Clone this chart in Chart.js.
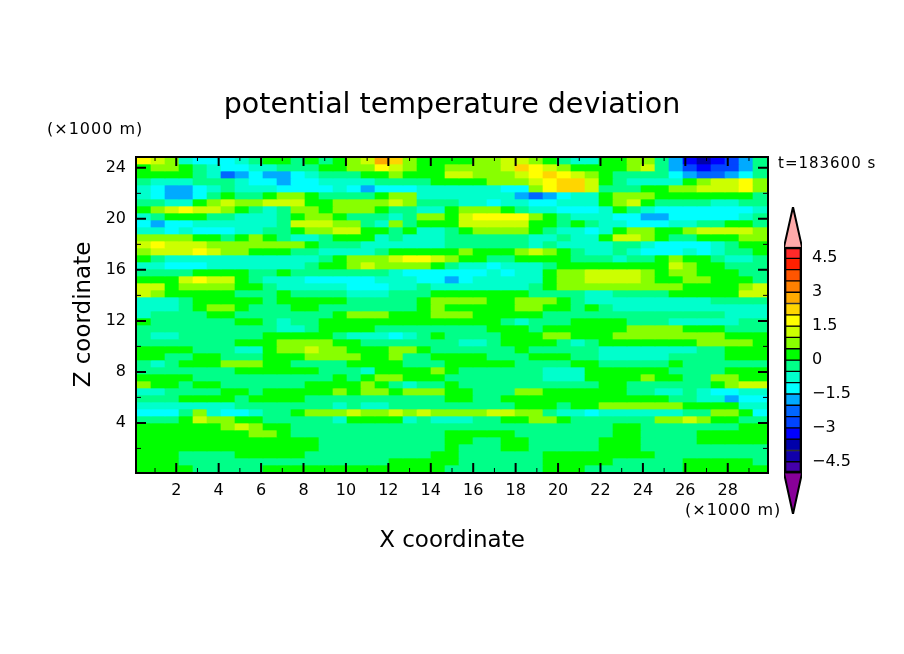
<!DOCTYPE html>
<html>
  <head>
    <meta charset="utf-8">
    <script src="https://cdnjs.cloudflare.com/ajax/libs/Chart.js/4.4.1/chart.umd.js" type="text/javascript"></script>
    <style>
      body { margin: 0; background: #fff; }
      #field { position: absolute; left: 0; top: 0; }
      #bar { position: absolute; left: 780px; top: 187px; }
    </style>
  </head>
  <body>
    <canvas id="field" width="904" height="654"></canvas>
    <canvas id="bar" width="124" height="340"></canvas>

    <script>
      // potential temperature deviation, top row first
      const z00 = [1.8,1.3,.8,-.8,-1.3,-1.3,-1.3,-.8,-.3,.3,.3,-.3,.3,-.3,.3,.8,1.3,2.8,2.3,.8,.3,.3,.3,.3,.8,.8,1.3,1.3,.8,.3,-.3,-.8,-.8,.3,.3,.8,.8,-.3,-1.8,-3.3,-3.8,-3.3,-2.8,-1.8,-.3];
      const z01 = [.3,.8,.8,.3,-.3,-.8,-1.3,-1.3,-.8,-.8,-.3,-.3,-.3,.3,.3,.8,.8,1.8,1.3,.8,.3,.3,.8,.8,.8,.8,1.3,2.3,1.8,1.3,.8,.3,.3,.3,.3,.8,1.3,-.3,-1.8,-2.8,-3.3,-2.8,-2.8,-1.8,-.3];
      const z02 = [.3,.3,.3,.3,-.3,-.8,-2.3,-1.8,-1.3,-1.8,-1.8,-1.3,-.8,-.3,-.3,-.3,.3,.3,.8,.3,.3,.3,1.3,1.3,.8,.8,.8,1.3,1.8,2.3,1.8,1.3,.8,.3,-.3,-.3,-.3,-.3,-1.3,-1.8,-2.3,-2.3,-1.8,-1.3,-.3];
      const z03 = [-.3,-.8,-.8,-.8,-.3,-.3,-.3,-.8,-1.3,-1.3,-1.8,-1.3,-1.3,-.8,-.8,-.8,-.8,-.3,-.3,-.3,-.3,.3,.3,.3,.3,.8,.8,.8,1.3,1.8,2.3,2.3,1.3,.3,-.3,-.8,-.8,-.8,-.8,.3,.8,1.3,1.3,1.8,.8];
      const z04 = [-.8,-1.3,-1.8,-1.8,-1.3,-.8,-.3,-.8,-.8,-.8,-1.3,-1.3,-1.3,-1.3,-.8,-1.3,-1.8,-1.3,-1.3,-1.3,-.8,-.8,-.8,-.8,-.8,-.8,-1.3,-1.3,.8,1.8,2.3,2.3,1.3,-.3,-.3,-.3,.3,.3,.8,.8,1.3,1.3,1.3,1.8,.8];
      const z05 = [-.8,-1.3,-1.8,-1.8,-1.3,-.3,.3,-.3,-.3,.3,.8,.8,.3,-.3,-.3,-.3,-.3,.3,.8,.8,-.8,-.8,-.8,-.8,-.8,-.8,-.8,-1.8,-2.3,-1.8,-1.3,-.8,-.8,.3,.8,.8,.8,.3,.3,.3,.3,.3,.3,.3,-.3];
      const z06 = [-.3,-.3,-.8,-.8,.3,.8,1.3,.8,.8,1.3,1.3,1.3,.3,.3,.8,.8,.8,.8,1.3,.8,-.3,-.3,-.3,-.8,-.8,-1.3,-.8,-.8,-1.3,-1.3,-.8,-.8,-.8,.3,.8,1.3,.3,-.3,-.3,-.3,-.3,-.8,-.8,-.3,-.3];
      const z07 = [.3,.8,1.3,1.8,1.3,1.3,.8,.3,-.3,-.8,-.3,.8,.8,.3,.8,.8,.8,.3,-.3,-.3,-.8,-.8,.3,.8,.8,.8,.3,-.3,-.8,-.8,-1.3,-1.3,-1.3,-.8,.3,-.3,-.8,-1.3,-1.3,-1.3,-1.3,-1.3,-1.3,-1.3,-.8];
      const z08 = [-.8,-.3,.3,.3,.3,-.3,-.3,-.8,-.8,-.8,-.3,.3,.8,.8,.3,-.3,-.3,-.3,-.8,-.3,.8,.8,.3,1.3,1.8,1.8,1.8,1.8,.8,.3,-.3,-.8,-.8,-.8,-1.3,-1.3,-1.8,-1.8,-1.3,-1.3,-1.3,-1.3,-1.3,-.8,-.3];
      const z09 = [-1.3,-1.8,-1.3,-1.3,-.8,-.8,-.8,-.8,-.8,-.8,-.3,1.3,1.3,1.3,.8,.8,-.3,-.8,.8,-.3,.3,.3,.3,1.3,1.3,1.3,1.3,1.3,.3,.3,-.3,.3,-.3,-.8,-.8,-1.3,-1.3,-1.3,-.8,-.8,-.3,-.3,.3,.3,-.3];
      const z10 = [-.8,-.8,-1.3,-.8,-1.3,-1.3,-1.3,-.8,-.8,-.3,-.3,.3,.8,.8,1.3,1.3,.3,.3,-.3,.3,-.8,-.8,-.3,.3,.8,.8,.8,.8,.3,-.3,-.8,-.8,-1.3,-.8,.3,.8,.8,.3,.3,.8,1.3,1.3,1.3,1.3,.8];
      const z11 = [.8,.8,.8,.8,.3,.3,-.3,.3,.8,.3,-.3,-.8,-.8,-.3,.3,.3,.3,-.8,-.3,-.8,-.8,-.8,-.3,-.3,-.3,-.3,-.3,-.3,-.8,-.8,-.3,-.8,-.8,.3,1.3,1.3,.8,.3,-.3,-.3,.3,.3,.3,.8,.8];
      const z12 = [1.3,1.8,1.3,1.3,1.3,.8,.8,.8,.8,.8,.8,.8,.3,-.3,-.3,-.3,-.8,-.8,-.8,-.8,-.8,-.8,-.3,-.3,-.3,-.3,-.3,-.3,-.8,-.3,-.8,-.8,-.8,-.8,-.3,-.3,-.8,-1.3,-1.3,-1.3,-1.3,-.8,-.3,.3,.3];
      const z13 = [.8,1.3,1.3,1.3,1.8,1.3,.8,.8,.3,.3,.3,-.3,-.3,-.8,-.8,-.8,-.8,-.3,.3,.3,.3,.3,.3,.8,.3,.3,.3,.8,1.3,.8,.3,-.3,-.8,-.8,-.3,-.8,-1.3,-1.3,-1.3,-.8,-1.3,-.8,-.3,-.3,.3];
      const z14 = [.3,-.3,-.8,-.8,-.8,-.8,-.8,-.8,-.8,-.8,-.8,-.8,-.8,-.3,.3,.8,.8,.8,1.3,1.8,1.8,1.3,.8,.3,.3,-.3,-.3,.3,.3,.3,.3,-.3,-.3,-.3,-.8,-.3,-.3,.3,.8,.3,.3,-.3,-.8,-.8,-.3];
      const z15 = [-.8,-.8,-1.3,-1.3,-1.3,-.8,-.8,-.8,-.8,-.8,-.8,-.8,-.3,.3,.3,.8,1.3,.8,.8,.8,.8,.3,-.3,-.8,-.8,-1.3,-.8,-.8,-.8,-.3,.3,.3,.3,.3,.3,.3,.3,.3,1.3,.8,.3,.3,-.3,-.3,-.3];
      const z16 = [-.3,-.3,-.3,-.3,.3,.3,.3,.3,-.3,-.3,.3,-.3,-.3,-.3,-.3,-.3,-.3,-.3,-.8,-1.3,-1.3,-1.3,-1.3,-1.3,-1.3,-.8,-1.3,-.8,-.8,.3,.8,.8,1.3,1.3,1.3,1.3,.8,.3,.8,.8,.3,.3,.3,-.3,-.3];
      const z17 = [.3,.3,.3,1.3,1.8,1.3,1.3,.3,-.3,-.8,-.8,-.8,-1.3,-1.3,-1.3,-1.3,-1.3,-.8,-.8,-.8,-1.3,-1.3,-1.8,-1.3,-.8,-.8,-.8,-.8,-.8,.3,.8,.8,1.3,1.3,1.3,1.3,.8,.3,.3,.8,.8,.3,.3,.3,-.3];
      const z18 = [1.3,1.3,.3,.8,.8,.8,.8,.3,.3,-.3,-.8,-.8,-.8,-.8,-.8,-1.3,-1.3,-1.3,-.8,-.8,-.3,-.8,-.8,-.8,-.8,-.8,-.8,-.8,-.3,.3,.8,.8,.8,.8,.8,.8,.8,.8,.8,.3,.3,.3,.3,.8,1.3];
      const z19 = [1.3,.8,.3,.3,.3,.3,.3,-.3,-.3,-.3,.3,-.3,-.3,-.3,-.3,-.8,-.8,-.8,-.3,-.3,-.3,.3,.3,.3,.3,.3,.3,.3,-.3,-.3,-.3,-.3,-.8,-.8,-.3,-.3,-.3,-.3,.3,.3,.3,.3,.3,1.3,1.3];
      const z20 = [-.8,-.8,-.8,-.3,.3,.3,.3,.3,.3,-.3,.3,.3,.3,.3,.3,-.3,-.3,-.3,-.3,-.3,.3,.8,.8,.8,.8,.3,.3,.8,.8,.8,.3,-.3,-.8,-.8,-.8,-.8,-.8,-.8,-.8,-.8,-.8,-.3,-.3,-.3,-.3];
      const z21 = [-.8,-.8,-.8,-.3,.3,.8,.8,.3,-.3,-.3,-.3,.3,.3,-.3,-.3,-.3,-.3,-.3,-.3,-.3,.3,.8,.3,.3,.3,.3,.3,.8,.8,.3,.3,-.3,.3,-.3,-.8,-.8,-.8,-.8,-.8,-.8,-.8,-.8,-.8,-.8,-.8];
      const z22 = [-.8,-.3,-.3,-.3,-.3,.3,.3,-.3,-.3,-.3,-.3,-.3,-.3,-.3,.3,.8,.8,.8,.3,.3,.3,.8,.8,.8,.3,.3,.3,.3,.3,-.3,-.3,-.3,-.3,-.3,-.3,-.3,-.3,-.3,-.3,-.3,-.3,-.3,-.8,-.8,-.8];
      const z23 = [.3,-.3,-.3,-.3,-.3,-.3,-.3,.3,.3,-.3,-.8,-.3,-.3,.3,.3,.3,.3,.3,.3,.3,.3,.3,.3,.3,.3,.3,-.3,-.8,-.3,-.3,-.3,.3,.3,.3,.3,-.3,-.3,-.3,-.8,-.8,-.8,-.8,-.8,-.3,-.3];
      const z24 = [-.3,-.3,-.3,-.3,-.3,-.3,-.3,-.3,-.3,-.3,-.8,-.8,-.3,.3,.3,.3,.3,-.3,-.3,-.3,-.3,-.3,-.3,-.3,-.3,.3,.3,.3,-.3,.3,.3,.3,.3,.3,.3,.8,.8,.8,.8,.3,.3,.3,-.3,-.3,-.3];
      const z25 = [-.3,-.8,-.8,-.3,-.3,-.3,-.3,-.3,-.3,.3,.3,.3,.3,.3,-.3,-.8,-.8,-.8,-1.3,-.8,-.3,.3,-.3,-.3,-.3,-.3,.3,.3,.3,.8,.8,.3,.3,.3,.8,.8,.8,.8,.8,.8,.8,.8,.3,.3,.3];
      const z26 = [-.3,-.3,-.3,-.3,-.3,-.3,-.3,.3,.3,.3,.8,.8,.8,.8,.3,.3,-.3,-.3,-.3,-.3,-.3,-.3,-.3,-.8,-.8,-.3,.3,.3,.3,.3,-.3,-.8,-.3,.3,.3,.3,.3,.3,.3,.3,.8,.8,.8,.8,.3];
      const z27 = [.3,.3,.3,.3,-.3,-.3,-.3,-.8,-.8,.3,.8,.8,1.3,.8,.8,.3,.3,.3,.8,.8,.3,-.3,-.3,-.3,-.3,-.3,-.3,.3,-.3,-.3,-.3,-.3,-.3,-.8,-.8,-.8,-.8,-.8,-.8,-.8,-.3,-.3,.3,.3,.3];
      const z28 = [.3,.3,-.3,-.3,.3,.3,-.3,-.3,-.3,.3,.3,.3,.8,.8,.8,.8,.3,.3,.8,-.3,-.3,.3,.3,.3,.3,-.3,-.3,-.3,.3,.3,.3,-.3,-.3,-.8,-.8,-.8,-.8,-.8,-.3,-.3,-.3,-.3,.3,.3,.3];
      const z29 = [-.3,-.8,-.3,.3,.3,.3,.8,.8,.8,.3,.3,-.3,-.3,-.3,-.3,.3,.3,.3,.3,-.3,-.3,-.3,.3,.3,.3,.3,.3,-.3,-.3,-.3,-.3,.3,.3,-.3,-.3,-.3,-.3,-.3,.3,-.3,-.3,-.3,-.3,-.3,-.3];
      const z30 = [-.3,-.3,-.3,-.3,-.3,-.3,-.3,.3,.3,.3,.3,.3,.3,-.3,-.3,-.3,-.8,.3,.3,.3,.3,.8,.3,-.3,-.3,-.3,-.3,-.3,-.3,-.8,-.8,-.8,.3,.3,.3,.3,.3,.3,-.3,-.3,-.3,-.3,.3,.3,.3];
      const z31 = [.3,.3,.3,.3,-.3,-.3,-.3,-.3,-.3,-.3,-.3,-.3,-.3,-.3,.3,-.3,.3,.8,.8,.3,.3,.3,-.3,-.3,-.3,-.3,-.3,-.3,-.3,-.8,-.8,-.8,.3,.3,.3,.3,.8,.3,.3,-.3,-.3,.8,.8,.3,.3];
      const z32 = [.8,.3,.3,-.3,.3,.3,-.3,-.3,-.3,-.3,-.3,-.3,.3,.3,.3,.3,.8,.3,-.3,-.8,-.3,-.3,.3,-.3,-.3,-.3,-.3,-.3,-.3,-.3,-.3,-.3,-.3,.3,.3,-.3,-.3,-.3,-.3,-.3,-.3,.3,.8,1.3,1.3];
      const z33 = [-.8,-.8,-.3,-.3,-.3,-.3,.3,.3,-.3,.3,.3,.3,.3,.3,.8,.3,.8,.8,.3,.8,.8,.8,.3,.3,-.3,-.3,-.3,.8,.8,.3,.3,.3,.3,.3,.3,-.3,-.3,-.8,-.8,-.3,-.8,-1.3,-1.3,-.8,-.8];
      const z34 = [-.3,-.3,-.3,.3,.3,.3,.3,-.3,.3,.3,.3,.3,-.3,-.3,-.3,-.3,-.3,-.3,-.3,-.3,-.3,-.3,.3,.3,-.3,-.3,.3,.3,.3,.3,.3,.3,.3,.3,.3,.3,.3,.3,-.3,-.3,-.8,-.8,-1.8,-1.3,-1.3];
      const z35 = [-.8,-.8,-.8,-.8,-.8,-.8,-.8,-.3,-.3,-.3,-.3,-.3,-.3,-.3,-.8,-.3,-.8,-.8,-.3,-.3,-.3,-.3,-.3,-.3,-.3,-.3,-.3,.3,.3,.3,-.3,.3,.3,.8,.8,.8,.8,.8,.8,.3,.3,.3,.3,-.8,-.8];
      const z36 = [-1.3,-1.3,-1.3,-.3,.8,-.8,-1.3,-1.3,-.8,-.3,-.3,.3,.8,.8,.8,1.3,.8,.8,1.3,.8,1.3,.8,.8,.8,.8,1.3,1.3,.8,.8,-.3,-.8,-.8,-1.3,-.8,-.8,-.8,-.8,-.8,-.8,-.3,-.3,.8,.8,.3,-1.3];
      const z37 = [-.3,-.3,-.3,.3,1.3,.8,.8,.3,.3,-.3,-.3,-.3,-.3,-.3,-.8,.3,.3,.3,.3,-.8,-.3,-.8,-.8,-.8,-.3,-.3,.3,.3,.8,.8,.3,-.3,-.3,-.3,-.3,-.3,-.3,.8,.8,1.3,.8,.3,.3,-.3,-.3];
      const z38 = [.3,.3,.3,.3,.3,.3,.8,1.3,.8,.3,.3,-.3,-.3,-.3,-.3,-.3,-.3,-.3,-.3,-.3,-.3,-.3,-.3,-.3,-.3,-.3,-.3,-.3,-.3,-.3,-.3,-.3,-.3,-.3,.3,.3,-.3,-.3,-.3,-.3,-.3,-.3,-.3,.3,.3];
      const z39 = [.3,.3,.3,.3,.3,.3,.3,.3,.8,.8,.3,-.3,-.3,-.3,-.3,-.3,-.3,-.3,-.3,-.3,-.3,-.3,.3,.3,.3,.3,.3,-.3,-.3,-.3,-.3,-.3,-.3,-.3,.3,.3,-.3,-.3,-.3,-.3,.3,.3,.3,.3,.3];
      const z40 = [.3,.3,.3,.3,.3,.3,.3,.3,.3,.3,.3,.3,.3,-.3,-.3,-.3,-.3,-.3,-.3,-.3,-.3,-.3,.3,.3,-.3,-.3,.3,.3,-.3,-.3,-.3,-.3,-.3,.3,.3,.3,-.3,-.3,-.3,-.3,.3,.3,.3,.3,.3];
      const z41 = [.3,.3,.3,.3,.3,.3,.3,.3,.3,.3,.3,.3,.3,-.3,-.3,-.3,-.3,-.3,-.3,-.3,-.3,-.3,.3,-.3,-.3,-.3,.3,.3,-.3,-.3,-.3,-.3,-.3,.3,.3,.3,-.3,-.3,-.3,-.3,-.3,-.3,-.3,-.3,-.3];
      const z42 = [.3,.3,.3,-.3,-.3,-.3,-.3,.3,.3,.3,.3,.3,-.3,-.3,-.3,-.3,-.3,-.3,-.3,-.3,-.3,.3,.3,-.3,-.3,-.3,-.3,-.3,-.3,.3,.3,.3,.3,.3,.3,.3,.3,-.3,-.3,-.3,-.3,-.3,-.3,-.3,-.3];
      const z43 = [.3,.3,.3,-.3,-.3,-.3,-.3,-.3,-.3,-.3,-.3,-.3,-.3,-.3,-.3,-.3,-.3,-.3,.3,.3,.3,.3,.3,-.3,-.3,-.3,-.3,-.3,-.3,.3,.3,.3,.3,.3,-.3,-.3,-.3,-.3,-.3,.3,.3,.3,.3,.3,-.3];
      const z44 = [.3,.3,.3,.3,-.3,-.3,-.3,-.3,-.3,.3,.3,.3,.3,.3,.3,.3,.3,.3,.3,.3,.3,.3,-.3,-.3,-.3,-.3,-.3,-.3,-.3,.3,.3,.3,-.3,-.3,-.3,-.3,-.3,-.3,-.3,.3,.3,.3,.3,.3,.3];
      const zRows = [z00,z01,z02,z03,z04,z05,z06,z07,z08,z09,z10,z11,z12,z13,z14,z15,z16,z17,z18,z19,z20,z21,z22,z23,z24,z25,z26,z27,z28,z29,z30,z31,z32,z33,z34,z35,z36,z37,z38,z39,z40,z41,z42,z43,z44];

      const xTicks = [1,2,3,4,5,6,7,8,9,10,11,12,13,14,15,16,17,18,19,20,21,22,23,24,25,26,27,28,29];
      const zTicks = [2,4,6,8,10,12,14,16,18,20,22,24];
      const barTicks = [-4.5,-3,-1.5,0,1.5,3,4.5];

      // one colour for each 0.5 wide level from -5 up to 5
      const levelColors = ['#4400aa','#1100aa','#0000aa','#0000ff','#0044ff','#0066ff','#00aaff','#00ffff','#00ffcc','#00ff88',
                           '#00ff00','#88ff00','#ccff00','#ffff00','#ffd500','#ffaa00','#ff8000','#ff5500','#ff2000','#ff2a2a'];

      const FONT = 'DejaVu Sans';
      const xMin = 0.15, xMax = 29.85, zMin = 0.15, zMax = 24.85;
      const dx = (xMax - xMin) / z00.length;
      const dz = (zMax - zMin) / zRows.length;
      const colorOf = v => levelColors[Math.floor(v / 0.5) + 10];

      const rowSets = zRows.map((row, j) => ({
        backgroundColor: row.map(colorOf),
        borderWidth: 0,
        grouped: false,
        barPercentage: 1,
        categoryPercentage: 1,
        data: row.map((v, i) => ({ x: xMin + (i + 0.5) * dx, y: [zMax - (j + 1) * dz, zMax - j * dz] }))
      }));

      // frame and inward ticks on all four sides
      const frame = {
        id: 'frame',
        afterDatasetsDraw(chart) {
          const { ctx, chartArea: a, scales } = chart;
          ctx.save();
          ctx.strokeStyle = '#000';
          ctx.lineWidth = 2;
          ctx.strokeRect(a.left - 1, a.top, a.width + 2, a.height + 1);
          xTicks.forEach(v => {
            const x = scales.x.getPixelForValue(v), major = v % 2 === 0, len = major ? 9 : 4;
            ctx.lineWidth = major ? 2 : 1;
            ctx.beginPath();
            ctx.moveTo(x, a.bottom); ctx.lineTo(x, a.bottom - len);
            ctx.moveTo(x, a.top); ctx.lineTo(x, a.top + len);
            ctx.stroke();
          });
          zTicks.forEach(v => {
            const y = scales.y.getPixelForValue(v), major = v % 4 === 0, len = major ? 9 : 4;
            ctx.lineWidth = major ? 2 : 1;
            ctx.beginPath();
            ctx.moveTo(a.left, y); ctx.lineTo(a.left + len, y);
            ctx.moveTo(a.right, y); ctx.lineTo(a.right - len, y);
            ctx.stroke();
          });
          ctx.fillStyle = '#000';
          ctx.textBaseline = 'middle';
          ctx.letterSpacing = '1px';
          ctx.font = '16px "' + FONT + '"';
          ctx.fillText('(×1000 m)', 47, 130);
          ctx.fillText('(×1000 m)', 685, 511);
          ctx.font = '15px "' + FONT + '"';
          ctx.fillText('t=183600 s', 778, 164);
          ctx.restore();
        }
      };

      new Chart(document.getElementById('field'), {
        type: 'bar',
        data: { datasets: rowSets },
        plugins: [frame],
        options: {
          responsive: false,
          animation: false,
          plugins: {
            legend: { display: false },
            tooltip: { enabled: false },
            title: {
              display: true,
              text: 'potential temperature deviation',
              color: '#000',
              font: { family: FONT, size: 28.5, weight: 'normal', lineHeight: '30px' },
              padding: { top: 91, bottom: 36 }
            }
          },
          scales: {
            x: {
              type: 'linear',
              offset: false,
              min: xMin,
              max: xMax,
              grid: { display: false },
              border: { display: false },
              afterBuildTicks: s => { s.ticks = xTicks.map(value => ({ value })); },
              afterFit: s => { s.height = 182; },
              ticks: {
                autoSkip: false,
                maxRotation: 0,
                padding: 1,
                color: '#000',
                font: { family: FONT, size: 16 },
                callback: v => (v % 2 === 0 ? String(v) : '')
              },
              title: {
                display: true,
                text: 'X coordinate',
                color: '#000',
                font: { family: FONT, size: 23 },
                padding: { top: 99, bottom: 99 }
              }
            },
            y: {
              min: zMin,
              max: zMax,
              grid: { display: false },
              border: { display: false },
              afterBuildTicks: s => { s.ticks = zTicks.map(value => ({ value })); },
              afterFit: s => { s.width = 137; },
              ticks: {
                autoSkip: false,
                padding: 3,
                color: '#000',
                font: { family: FONT, size: 16 },
                callback: v => (v % 4 === 0 ? String(v) : '')
              },
              title: {
                display: true,
                text: 'Z coordinate',
                color: '#000',
                font: { family: FONT, size: 23 },
                padding: { top: 70, bottom: 70 }
              }
            },
            // empty axis that keeps the space on the right for the colour bar
            side: {
              type: 'linear',
              position: 'right',
              grid: { display: false },
              border: { display: false },
              ticks: { display: false },
              afterFit: s => { s.width = 137; }
            }
          }
        }
      });

      // colour bar: one floating bar per level, plus the two end triangles
      const levelEdges = levelColors.map((c, i) => [-5 + i * 0.5, -5 + (i + 1) * 0.5]);
      const barTop = 6.77, barBottom = -6.81;

      new Chart(document.getElementById('bar'), {
        type: 'bar',
        data: {
          datasets: [
            {
              type: 'bar',
              data: [{ x: 0.5, y: [-5, 5] }],
              backgroundColor: 'rgba(0,0,0,0)',
              borderColor: '#000',
              borderWidth: 2,
              borderSkipped: false,
              barThickness: 18,
              grouped: false
            },
            {
              type: 'bar',
              data: levelEdges.map(y => ({ x: 0.5, y })),
              backgroundColor: levelColors,
              borderColor: '#000',
              borderWidth: 1,
              borderSkipped: false,
              barThickness: 18,
              grouped: false
            },
            {
              type: 'line',
              data: [{ x: 0, y: 5 }, { x: 0.5, y: barTop }, { x: 1, y: 5 }],
              backgroundColor: '#ffaaaa',
              borderColor: '#000',
              borderWidth: 2,
              pointRadius: 0,
              tension: 0,
              fill: { value: 5 }
            },
            {
              type: 'line',
              data: [{ x: 0, y: -5 }, { x: 0.5, y: barBottom }, { x: 1, y: -5 }],
              backgroundColor: '#880099',
              borderColor: '#000',
              borderWidth: 2,
              pointRadius: 0,
              tension: 0,
              fill: { value: -5 }
            }
          ]
        },
        options: {
          responsive: false,
          animation: false,
          layout: { padding: { left: 4, right: 0, top: 20, bottom: 13 } },
          plugins: { legend: { display: false }, tooltip: { enabled: false } },
          scales: {
            x: { type: 'linear', min: 0, max: 1, display: false, offset: false },
            y: {
              position: 'right',
              min: barBottom,
              max: barTop,
              grid: { display: false },
              border: { display: false },
              afterBuildTicks: s => { s.ticks = barTicks.map(value => ({ value })); },
              afterFit: s => { s.width = 102; },
              ticks: {
                autoSkip: false,
                padding: 2,
                color: '#000',
                font: { family: FONT, size: 16 },
                callback: v => String(v).replace('-', '\u2212')
              }
            }
          }
        }
      });
    </script>
  </body>
</html>
